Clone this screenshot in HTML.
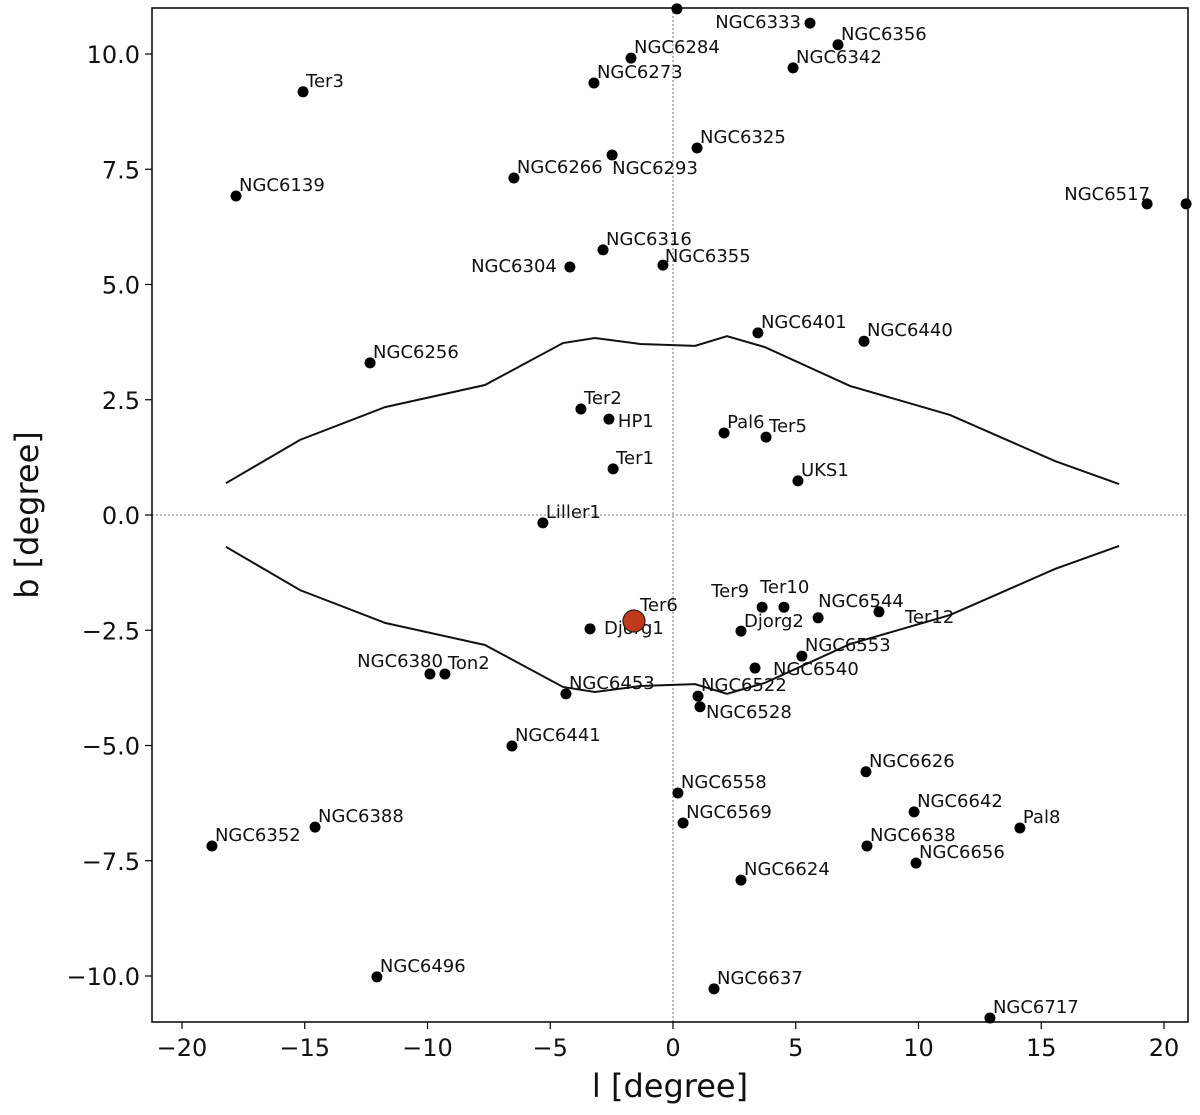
<!DOCTYPE html>
<html><head><meta charset="utf-8"><style>
html,body{margin:0;padding:0;background:#fff}
svg{display:block;font-family:"DejaVu Sans","Liberation Sans",sans-serif}
</style></head><body>
<svg id="chart" width="1200" height="1115" viewBox="0 0 1200 1115">
<g id="grid"></g><g id="curves"></g><g id="marks"></g><g id="axes"></g>
</svg>
<script>
const names=["","NGC6333","NGC6356","NGC6342","NGC6284","NGC6273","Ter3","NGC6325","NGC6293","NGC6266","NGC6139","NGC6517","","NGC6316","NGC6304","NGC6355","NGC6401","NGC6440","NGC6256","Ter2","HP1","Pal6","Ter5","Ter1","UKS1","Liller1","Ter9","Ter10","NGC6544","Ter12","Djorg1","Djorg2","NGC6553","NGC6540","NGC6380","Ton2","NGC6453","NGC6522","NGC6528","NGC6441","NGC6626","NGC6558","NGC6642","Pal8","NGC6569","NGC6388","NGC6352","NGC6638","NGC6656","NGC6624","NGC6496","NGC6637","NGC6717"];
const lVals=[0.16,5.58,6.72,4.89,-1.71,-3.22,-15.07,0.98,-2.48,-6.48,-17.8,19.31,20.9,-2.85,-4.2,-0.41,3.46,7.78,-12.34,-3.75,-2.61,2.08,3.79,-2.44,5.09,-5.3,3.63,4.52,5.91,8.39,-3.38,2.77,5.25,3.34,-9.9,-9.29,-4.36,1.02,1.1,-6.56,7.86,0.2,9.82,14.13,0.41,-14.58,-18.78,7.9,9.9,2.77,-12.06,1.67,12.91];
const bVals=[10.98,10.67,10.2,9.7,9.91,9.37,9.18,7.96,7.81,7.31,6.92,6.75,6.75,5.75,5.38,5.42,3.95,3.77,3.30,2.30,2.08,1.78,1.69,1.0,0.74,-0.17,-2.0,-2.0,-2.23,-2.1,-2.47,-2.52,-3.06,-3.32,-3.45,-3.45,-3.88,-3.93,-4.16,-5.01,-5.57,-6.03,-6.44,-6.79,-6.68,-6.77,-7.18,-7.18,-7.55,-7.92,-10.02,-10.28,-10.91];
const targetL=[-1.59], targetB=[-2.3];
const curveL=[-18.21,-15.19,-11.73,-7.66,-4.48,-3.18,-1.34,0.9,2.2,3.75,7.21,11.28,15.56,18.17];
const curveB=[0.69,1.63,2.34,2.82,3.73,3.84,3.71,3.67,3.88,3.64,2.8,2.17,1.17,0.67];
const xTicks=[-20,-15,-10,-5,0,5,10,15,20];
const yTicks=[-10,-7.5,-5,-2.5,0,2.5,5,7.5,10];
// label placement (layout, not data): [dx, dy, anchor]
const labelPos={"NGC6333":[-9,5,'end'],"NGC6293":[0,19,'start'],"Ter12":[26,11,'start'],"NGC6540":[18,7,'start'],
"NGC6528":[6,11,'start'],"Ter10":[-24,-14,'start'],"Ter9":[-13,-10,'end'],"NGC6544":[0,-11,'start'],
"Djorg2":[3,-4,'start'],"Djorg1":[14,5,'start'],"HP1":[9,8,'start'],"NGC6380":[13,-7,'end'],
"NGC6517":[3,-4,'end'],"NGC6304":[-13,5,'end'],"NGC6355":[2,-3,'start']};

const L=152,R=1188,T=8,B=1022;
const X=l=>673+l*24.55, Y=b=>515-b*46.1;
const NS="http://www.w3.org/2000/svg";
function mk(tag,attrs,parent,txt){const e=document.createElementNS(NS,tag);for(const k in attrs)e.setAttribute(k,attrs[k]);if(txt!==undefined)e.textContent=txt;parent.appendChild(e);return e;}
const grid=document.getElementById('grid'),curves=document.getElementById('curves'),marks=document.getElementById('marks'),axes=document.getElementById('axes');
let e;
e=mk('line',{x1:X(0),x2:X(0),y1:T,y2:B,stroke:'#555','stroke-width':0.8,'stroke-dasharray':'2,2'},grid);


e=mk('line',{x1:L,x2:R,y1:Y(0),y2:Y(0),stroke:'#555','stroke-width':0.8,'stroke-dasharray':'2,2'},grid);


const up=curveL.map((l,i)=>X(l)+','+Y(curveB[i])).join(' ');
const dn=curveL.map((l,i)=>X(l)+','+Y(-curveB[i])).join(' ');
e=mk('polyline',{points:up,fill:'none',stroke:'#111','stroke-width':2},curves);


e=mk('polyline',{points:dn,fill:'none',stroke:'#111','stroke-width':2},curves);


names.forEach((n,i)=>{
  const cx=X(lVals[i]),cy=Y(bVals[i]);
  e=mk('circle',{cx:cx,cy:cy,r:5.5,fill:'#000'},marks);
  
  
  if(n){
    const p=labelPos[n]||[3,-5,'start'];
    e=mk('text',{x:cx+p[0],y:cy+p[1],'font-size':18,'text-anchor':p[2],fill:'#111'},marks,n);
    
    
  }
});
e=mk('circle',{cx:X(targetL[0]),cy:Y(targetB[0]),r:11,fill:'#c0391b',stroke:'#222','stroke-width':1.2},marks);


e=mk('text',{x:X(targetL[0])+6,y:Y(targetB[0])-10,'font-size':18,fill:'#111'},marks,'Ter6');


e=mk('rect',{x:L,y:T,width:R-L,height:B-T,fill:'none',stroke:'#000','stroke-width':1.5},axes);


xTicks.forEach(t=>{
  e=mk('line',{x1:X(t),x2:X(t),y1:B,y2:B+7,stroke:'#000','stroke-width':1.2},axes);
  
  
  e=mk('text',{x:X(t),y:B+34,'font-size':24,'text-anchor':'middle',fill:'#111'},axes,t<0?'\u2212'+(-t):String(t));
  
  
});
yTicks.forEach(t=>{
  e=mk('line',{x1:L-7,x2:L,y1:Y(t),y2:Y(t),stroke:'#000','stroke-width':1.2},axes);
  
  
  e=mk('text',{x:L-12,y:Y(t)+9,'font-size':24,'text-anchor':'end',fill:'#111'},axes,(t<0?'\u2212':'')+Math.abs(t).toFixed(1));
  
  
});
e=mk('text',{x:670,y:1097,'font-size':32,'text-anchor':'middle',fill:'#111'},axes,'l [degree]');


e=mk('text',{x:0,y:0,'font-size':32,'text-anchor':'middle',fill:'#111',transform:'translate(38,515) rotate(-90)'},axes,'b [degree]');


</script>
</body></html>
